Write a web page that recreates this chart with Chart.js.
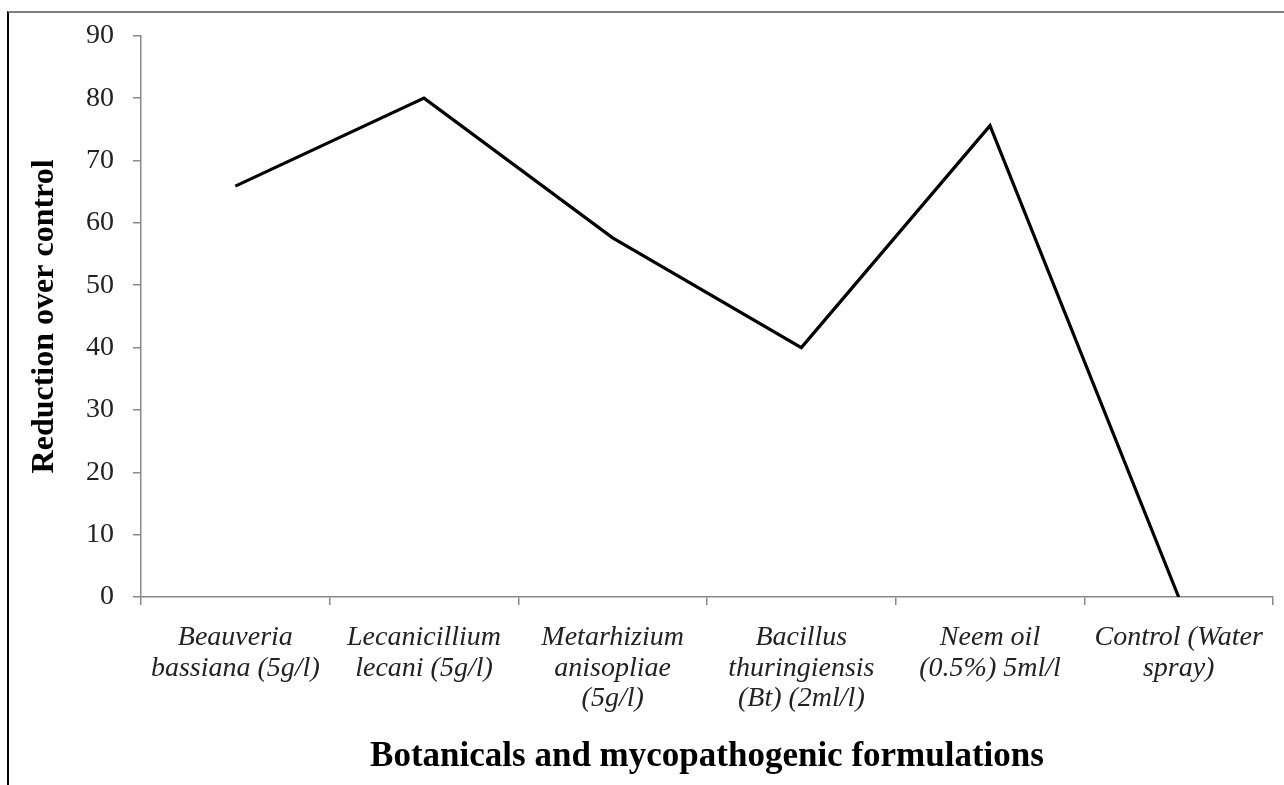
<!DOCTYPE html>
<html>
<head>
<meta charset="utf-8">
<script src="https://cdn.jsdelivr.net/npm/chart.js@4"></script>
<style>
  html, body { margin: 0; padding: 0; background: #fff; }
  #wrap { position: relative; width: 1284px; height: 785px; overflow: hidden; }
  #frame { position: absolute; left: 7px; top: 11px; right: -5px; bottom: -5px;
           border-top: 2px solid #808080; border-left: 2px solid #000; pointer-events: none; }
  canvas { position: absolute; left: 0; top: 0; }
</style>
</head>
<body>
<div id="wrap">
  <canvas id="c" width="1284" height="785"></canvas>
  <div id="frame"></div>
</div>
<script>
const categories = [
  ["Beauveria", "bassiana (5g/l)"],
  ["Lecanicillium", "lecani (5g/l)"],
  ["Metarhizium", "anisopliae", "(5g/l)"],
  ["Bacillus", "thuringiensis", "(Bt) (2ml/l)"],
  ["Neem oil", "(0.5%) 5ml/l"],
  ["Control (Water", "spray)"]
];
const reductionValues = [65.9, 80.0, 57.6, 40.0, 75.6, 0];
const yTickMin = 0;
const yTickMax = 90;
const yTickStep = 10;
const yAxisTitle = "Reduction over control";
const xAxisTitle = "Botanicals and mycopathogenic formulations";

const serif = "'Liberation Serif', 'Times New Roman', serif";

new Chart(document.getElementById('c'), {
  type: 'line',
  data: {
    labels: categories,
    datasets: [{
      data: reductionValues,
      borderColor: '#000',
      borderWidth: 3.2,
      pointRadius: 0,
      pointHoverRadius: 0,
      tension: 0,
      fill: false
    }]
  },
  options: {
    responsive: false,
    animation: false,
    devicePixelRatio: 1,
    layout: { padding: { top: 35, right: 11, bottom: 0, left: 0 } },
    plugins: { legend: { display: false }, tooltip: { enabled: false } },
    scales: {
      x: {
        offset: true,
        grid: { offset: true, drawOnChartArea: false, drawTicks: true, tickLength: 8, color: '#888', lineWidth: 1.5 },
        border: { color: '#888', width: 1.5 },
        ticks: {
          color: '#222',
          maxRotation: 0,
          autoSkip: false,
          padding: 17,
          font: { family: serif, size: 28, style: 'italic', lineHeight: 1.1 }
        },
        title: {
          display: true,
          text: xAxisTitle,
          color: '#000',
          font: { family: serif, size: 35, weight: 'bold', lineHeight: 1.2 },
          padding: { top: 0, bottom: 7 }
        },
        afterFit: (s) => { s.height = 188; }
      },
      y: {
        min: yTickMin,
        max: yTickMax,
        grid: { drawOnChartArea: false, drawTicks: true, tickLength: 8, color: '#888', lineWidth: 1.5 },
        border: { color: '#888', width: 1.5 },
        ticks: {
          stepSize: yTickStep,
          color: '#222',
          padding: 19,
          font: { family: serif, size: 28 }
        },
        title: {
          display: true,
          text: yAxisTitle,
          color: '#000',
          font: { family: serif, size: 32, weight: 'bold', lineHeight: 1.2 },
          padding: { top: 26, bottom: 0 }
        },
        afterFit: (s) => { s.width = 141; }
      }
    }
  }
});
</script>
</body>
</html>
